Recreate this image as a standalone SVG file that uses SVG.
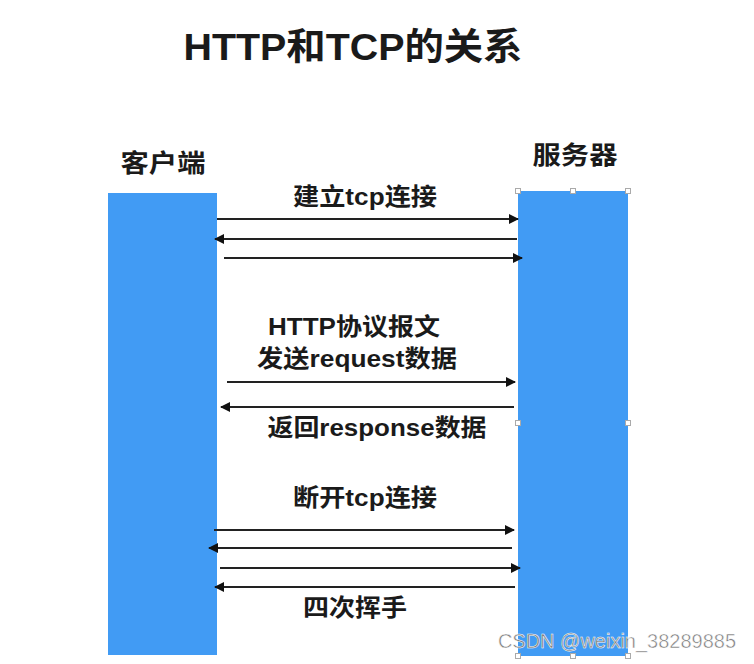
<svg xmlns="http://www.w3.org/2000/svg" width="754" height="664" viewBox="0 0 754 664">
<style>
.t{font-family:"Liberation Sans","Noto Sans CJK SC",sans-serif;font-weight:bold;fill:#1a1a1a;text-anchor:middle}
.bar{fill:#419bf4}
.h{fill:#fff;stroke:#aaa;stroke-width:1}
.c line{stroke:#222;stroke-width:2}
</style>
<defs>
<marker id="ah" viewBox="0 0 10 10" refX="9" refY="5" markerWidth="5" markerHeight="5" orient="auto" markerUnits="strokeWidth">
<path d="M0,0 L10,5 L0,10 z" fill="#111"/>
</marker>
</defs>
<rect width="754" height="664" fill="#fff"/>
<text class="t" x="353" y="60" font-size="37" textLength="339" lengthAdjust="spacingAndGlyphs">HTTP和TCP的关系</text>
<g id="client">
<rect class="bar" x="108" y="193" width="109" height="462"/>
<text class="t" x="163" y="172" font-size="25" textLength="85" lengthAdjust="spacingAndGlyphs">客户端</text>
</g>
<g id="server">
<rect class="bar" x="518" y="191" width="110" height="465"/>
<text class="t" x="575" y="164" font-size="25" textLength="85" lengthAdjust="spacingAndGlyphs">服务器</text>
<rect class="h" x="515.500" y="188.500" width="5" height="5"/>
<rect class="h" x="570.500" y="188.500" width="5" height="5"/>
<rect class="h" x="625.500" y="188.500" width="5" height="5"/>
<rect class="h" x="515.500" y="420.500" width="5" height="5"/>
<rect class="h" x="625.500" y="420.500" width="5" height="5"/>
<rect class="h" x="515.500" y="653.500" width="5" height="5"/>
<rect class="h" x="570.500" y="653.500" width="5" height="5"/>
<rect class="h" x="625.500" y="653.500" width="5" height="5"/>
</g>
<g id="connectors" class="c">
<line x1="217" y1="219" x2="518" y2="219" marker-end="url(#ah)"/>
<line x1="517" y1="239" x2="215" y2="239" marker-end="url(#ah)"/>
<line x1="224" y1="258" x2="522" y2="258" marker-end="url(#ah)"/>
<line x1="227" y1="382" x2="515" y2="382" marker-end="url(#ah)"/>
<line x1="514" y1="407" x2="221" y2="407" marker-end="url(#ah)"/>
<line x1="214" y1="530" x2="514" y2="530" marker-end="url(#ah)"/>
<line x1="512" y1="548" x2="209" y2="548" marker-end="url(#ah)"/>
<line x1="220" y1="568" x2="520" y2="568" marker-end="url(#ah)"/>
<line x1="515" y1="587" x2="215" y2="587" marker-end="url(#ah)"/>
</g>
<g id="labels">
<text class="t" x="365" y="205" font-size="24" textLength="144" lengthAdjust="spacingAndGlyphs">建立tcp连接</text>
<text class="t" x="354" y="335" font-size="24" textLength="172" lengthAdjust="spacingAndGlyphs">HTTP协议报文</text>
<text class="t" x="357" y="367" font-size="24" textLength="200" lengthAdjust="spacingAndGlyphs">发送request数据</text>
<text class="t" x="377" y="436" font-size="24" textLength="219" lengthAdjust="spacingAndGlyphs">返回response数据</text>
<text class="t" x="365" y="506" font-size="24" textLength="144" lengthAdjust="spacingAndGlyphs">断开tcp连接</text>
<text class="t" x="355" y="616" font-size="24" textLength="104" lengthAdjust="spacingAndGlyphs">四次挥手</text>
</g>
<text x="617" y="648" font-family="Liberation Sans,sans-serif" font-size="20" fill="#7a7a7a" stroke="#fff" stroke-width="0.5" text-anchor="middle">CSDN @weixin_38289885</text>
</svg>
